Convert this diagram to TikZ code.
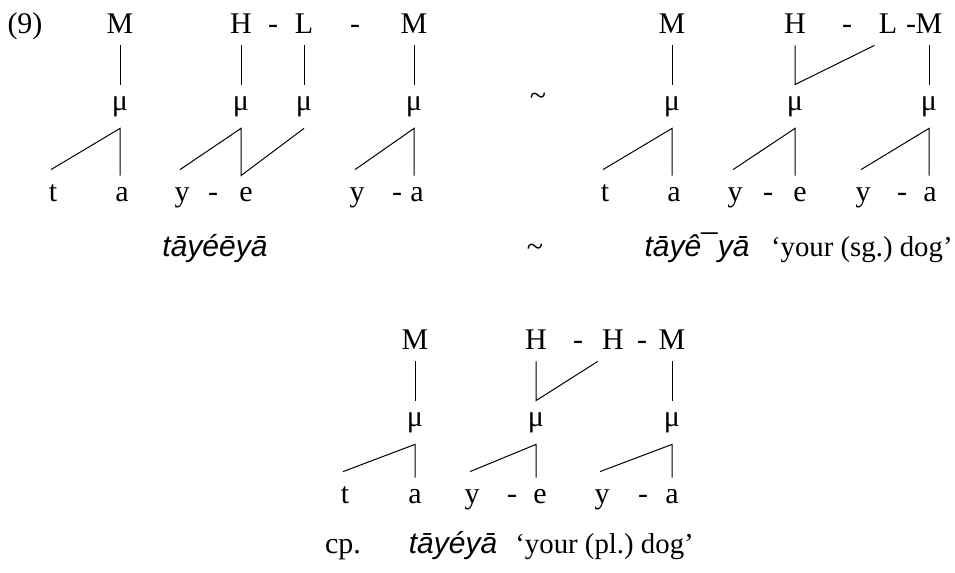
\documentclass[tikz,border=0pt]{standalone}
\usepackage{fontspec}
\setmainfont{Liberation Serif}
\newfontfamily\wordfont{Liberation Sans}
\usepackage{tikz}
\usetikzlibrary{calc}
\frenchspacing

\begin{document}
\begin{tikzpicture}[
    x=0.5pt, y=-0.5pt,
    every node/.style={font=\fontsize{15}{18}\selectfont, anchor=base, inner sep=0pt},
    tone/.style={text depth=0pt, inner xsep=2pt, inner ysep=6pt},
    mora/.style={text height=12.5pt, text depth=9pt},
    seg/.style={text height=12.5pt, text depth=0pt},
    word/.style={font=\fontsize{15}{18}\selectfont\wordfont\itshape},
    gloss/.style={font=\fontsize{14.4}{17}\selectfont},
    assoc/.style={line width=0.5pt},
]
    \useasboundingbox (0,0) rectangle (955,573);

    % (9a) taye-e ya
    \node (num) at (25,33) {(9)};
    \node[tone] (tA1) at (120,33) {M};
    \node[tone] (tA2) at (241,33) {H};
    \node (dA1) at (273,33) {-};
    \node[tone] (tA3) at (304,33) {L};
    \node (dA2) at (355,33) {-};
    \node[tone] (tA4) at (414,33) {M};

    \node[mora] (mA1) at (120,110) {μ};
    \node[mora] (mA2) at (241,110) {μ};
    \node[mora] (mA3) at (304,110) {μ};
    \node[mora] (mA4) at (414,110) {μ};

    \node[seg] (sA1) at (53,201) {t};
    \node[seg] (sA2) at (122,201) {a};
    \node[seg] (sA3) at (182,201) {y};
    \node (hA1) at (213,201) {-};
    \node[seg] (sA5) at (246,201) {e};
    \node[seg] (sA6) at (357,201) {y};
    \node (hA2) at (397,201) {-};
    \node[seg] (sA8) at (417,201) {a};

    \draw[assoc] (tA1.south) -- (mA1.north);
    \draw[assoc] (tA2.south) -- (mA2.north);
    \draw[assoc] (tA3.south) -- (mA3.north);
    \draw[assoc] (tA4.south) -- (mA4.north);
    \draw[assoc] ([xshift=-1pt,yshift=3pt]sA1.north) -- (mA1.south) -- (mA1.south |- sA2.north);
    \draw[assoc] ([xshift=-1pt,yshift=3pt]sA3.north) -- (mA2.south) -- (mA2.south |- sA5.north) -- (mA3.south);
    \draw[assoc] ([xshift=-1pt,yshift=3pt]sA6.north) -- (mA4.south) -- (mA4.south |- sA8.north);

    \node[word] (wA) at (215,256) {tāyéēyā};

    % (9b) taye ya
    \node (tilB) at (538,105) {\textasciitilde};
    \node[tone] (tB1) at (672,33) {M};
    \node[tone] (tB2) at (795,33) {H};
    \node (dB1) at (847,33) {-};
    \node[tone] (tB3) at (888,33) {L};
    \node (dB2) at (911,33) {-};
    \node[tone] (tB4) at (929,33) {M};

    \node[mora] (mB1) at (672,110) {μ};
    \node[mora] (mB2) at (795,110) {μ};
    \node[mora] (mB3) at (929,110) {μ};

    \node[seg] (sB1) at (605,201) {t};
    \node[seg] (sB2) at (674,201) {a};
    \node[seg] (sB3) at (735,201) {y};
    \node (hB1) at (768,201) {-};
    \node[seg] (sB5) at (800,201) {e};
    \node[seg] (sB6) at (863,201) {y};
    \node (hB2) at (902,201) {-};
    \node[seg] (sB8) at (930,201) {a};

    \draw[assoc] (tB1.south) -- (mB1.north);
    \draw[assoc] (tB2.south) -- (mB2.north) -- (tB3.south west);
    \draw[assoc] (tB4.south) -- (mB3.north);
    \draw[assoc] ([xshift=-1pt,yshift=3pt]sB1.north) -- (mB1.south) -- (mB1.south |- sB2.north);
    \draw[assoc] ([xshift=-1pt,yshift=3pt]sB3.north) -- (mB2.south) -- (mB2.south |- sB5.north);
    \draw[assoc] ([xshift=-1pt,yshift=3pt]sB6.north) -- (mB3.south) -- (mB3.south |- sB8.north);

    \node (tilW) at (535,256) {\textasciitilde};
    \node[word] (wB) at (697,256) {tāyê¯yā};
    \node[gloss, anchor=base east] (glB) at (953,256) {‘your (sg.) dog’};

    % cp. tayeya
    \node[tone] (tC1) at (415,349) {M};
    \node[tone] (tC2) at (536,349) {H};
    \node (dC1) at (578,349) {-};
    \node[tone] (tC3) at (613,349) {H};
    \node (dC2) at (642,349) {-};
    \node[tone] (tC4) at (672,349) {M};

    \node[mora] (mC1) at (415,426) {μ};
    \node[mora] (mC2) at (536,426) {μ};
    \node[mora] (mC3) at (672,426) {μ};

    \node[seg] (sC1) at (345,503) {t};
    \node[seg] (sC2) at (415,503) {a};
    \node[seg] (sC3) at (472,503) {y};
    \node (hC1) at (512,503) {-};
    \node[seg] (sC5) at (540,503) {e};
    \node[seg] (sC6) at (602,503) {y};
    \node (hC2) at (643,503) {-};
    \node[seg] (sC8) at (672,503) {a};

    \draw[assoc] (tC1.south) -- (mC1.north);
    \draw[assoc] (tC2.south) -- (mC2.north) -- (tC3.south west);
    \draw[assoc] (tC4.south) -- (mC3.north);
    \draw[assoc] ([xshift=-1pt,yshift=3pt]sC1.north) -- (mC1.south) -- (mC1.south |- sC2.north);
    \draw[assoc] ([xshift=-1pt,yshift=3pt]sC3.north) -- (mC2.south) -- (mC2.south |- sC5.north);
    \draw[assoc] ([xshift=-1pt,yshift=3pt]sC6.north) -- (mC3.south) -- (mC3.south |- sC8.north);

    \node (cp) at (343,553) {cp.};
    \node[word] (wC) at (453,553) {tāyéyā};
    \node[gloss, anchor=base west] (glC) at (515,553) {‘your (pl.) dog’};
\end{tikzpicture}
\end{document}
